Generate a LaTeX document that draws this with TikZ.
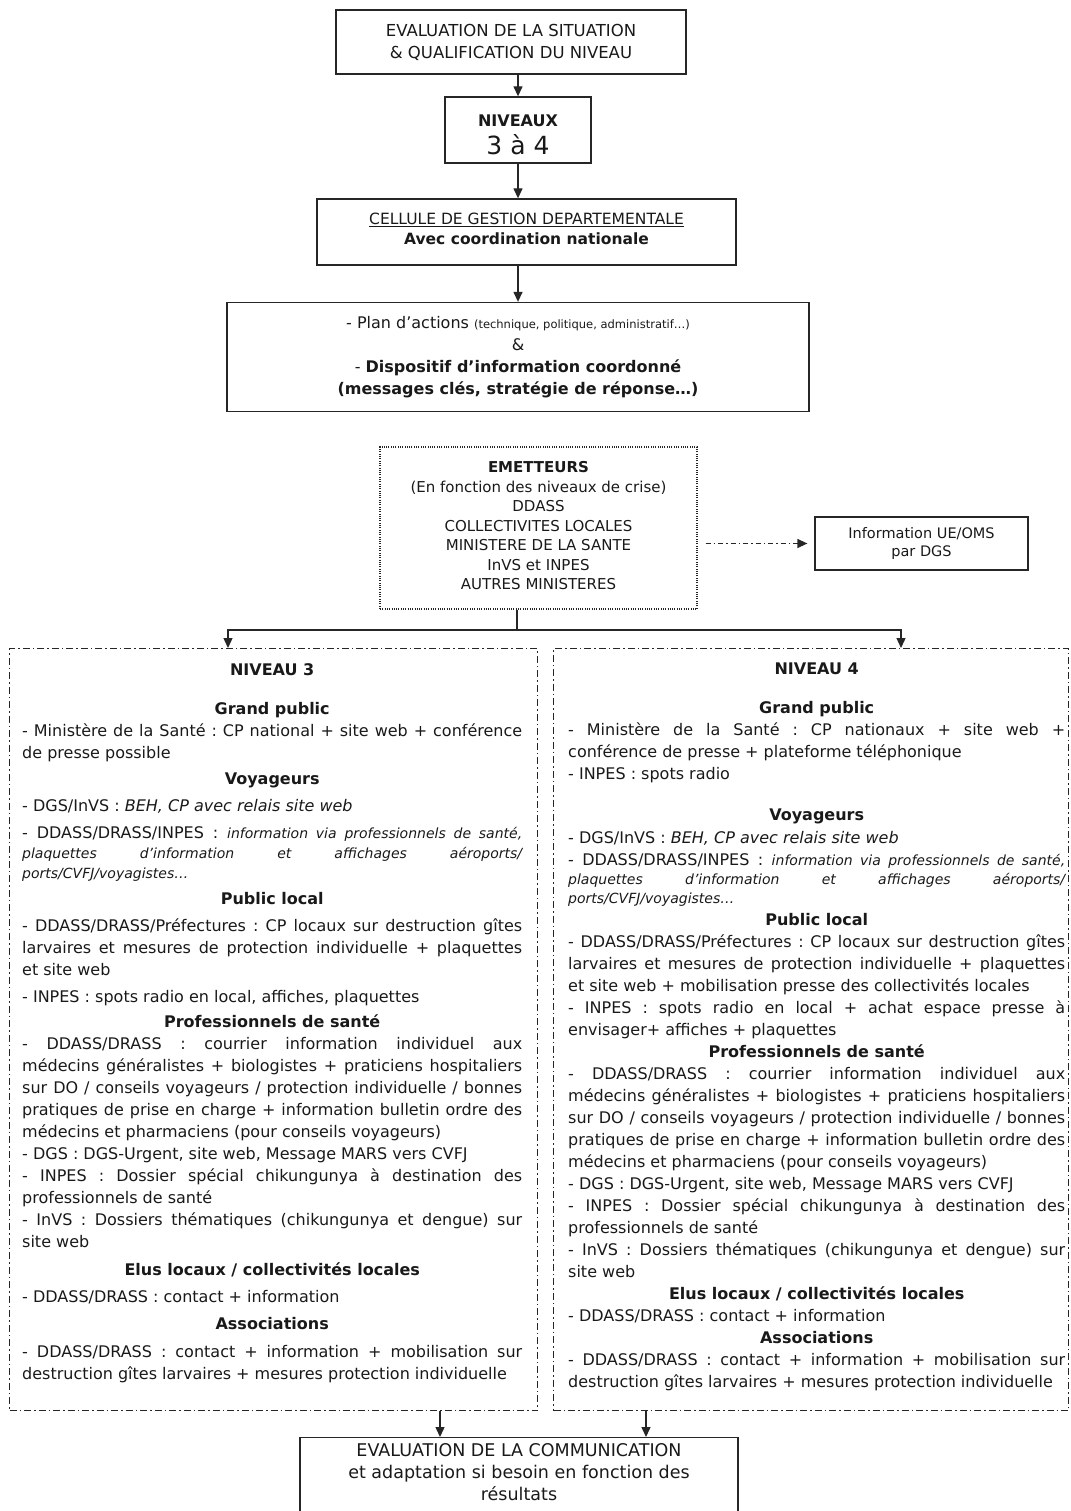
\documentclass[tikz,border=0pt]{standalone}
\usepackage{fontspec}
\setmainfont{DejaVu Sans}
\usetikzlibrary{arrows.meta}
\frenchspacing

\newcommand{\petit}[1]{{\fontsize{14}{20}\selectfont\itshape #1}}
\newcommand{\rubrique}[1]{{\centering\bfseries #1\par}}

\begin{document}
\begin{tikzpicture}[x=1pt,y=-1pt,
    box/.style={draw=black!85, line width=1.3pt, rectangle, inner sep=0pt, align=center,
      text=black!90, font=\fontsize{16}{22}\selectfont},
    dotbox/.style={box, dash pattern=on 1pt off 1.3pt},
    colbox/.style={draw=black!85, line width=1.1pt, rectangle, inner sep=0pt,
      dash pattern=on 7pt off 3pt on 1.5pt off 3pt},
    coltext/.style={anchor=north west, inner sep=0pt, align=justify, text=black!90,
      font=\fontsize{16}{22}\selectfont},
    arr/.style={draw=black!85, line width=1.3pt, -{Triangle[length=10pt,width=9pt]}},
    dasharr/.style={arr, dash pattern=on 5pt off 3pt on 1.5pt off 3pt}]
  \useasboundingbox (0,0) rectangle (1070,1511);

  % haut du schema
  \node[box, minimum width=350pt, minimum height=64pt, font=\fontsize{16.5}{22}\selectfont]
    (situation) at (511,42) {EVALUATION DE LA SITUATION\\\& QUALIFICATION DU NIVEAU};
  \node[box, minimum width=146pt, minimum height=66pt] (niveaux) at (518,130)
    {\rule{0pt}{22pt}\textbf{NIVEAUX}\\[6pt]{\fontsize{25}{28}\selectfont 3 à 4}};
  \node[box, minimum width=419pt, minimum height=66pt, font=\fontsize{15.5}{20}\selectfont]
    (cellule) at (526.5,232) {\underline{CELLULE DE GESTION DEPARTEMENTALE}\\\textbf{Avec coordination nationale}\rule[-6pt]{0pt}{6pt}};
  \node[box, minimum width=582pt, minimum height=109pt] (plan) at (518,357)
    {- Plan d’actions {\fontsize{11.5}{14}\selectfont (technique, politique, administratif…)}\\
     \&\\
     - \textbf{Dispositif d’information coordonné}\\
     \textbf{(messages clés, stratégie de réponse…)}};

  % emetteurs
  \node[dotbox, minimum width=317pt, minimum height=162pt, font=\fontsize{15}{19.5}\selectfont]
    (emetteurs) at (538.5,528) {\textbf{EMETTEURS}\\(En fonction des niveaux de crise)\\DDASS\\
     COLLECTIVITES LOCALES\\MINISTERE DE LA SANTE\\InVS et INPES\\AUTRES MINISTERES\rule[-5pt]{0pt}{5pt}};
  \node[box, minimum width=213pt, minimum height=53pt, font=\fontsize{14.5}{18.5}\selectfont]
    (infoue) at (921.5,543.5) {Information UE/OMS\\par DGS};

  % niveaux 3 et 4
  \node[colbox, minimum width=528pt, minimum height=762pt, anchor=north west] (niv3) at (9,648) {};
  \node[colbox, minimum width=515pt, minimum height=762pt, anchor=north west] (niv4) at (553,648) {};

  \node[coltext, text width=500pt] (txt3) at (22,663) {\setlength{\parskip}{0pt}%
    \rubrique{NIVEAU 3}
    \vspace{17pt}
    \rubrique{Grand public}
    - Ministère de la Santé : CP national + site web + conférence\linebreak de presse possible\par
    \vspace{4pt}
    \rubrique{Voyageurs}
    \vspace{5pt}
    - DGS/InVS : \textit{BEH, CP avec relais site web}\par
    \vspace{7pt}
    {\baselineskip=20pt - DDASS/DRASS/INPES : \petit{information via professionnels de santé,\linebreak
     plaquettes d’information et affichages aéroports/\linebreak ports/CVFJ/voyagistes…}\par}
    \vspace{4pt}
    \rubrique{Public local}
    \vspace{5pt}
    - DDASS/DRASS/Préfectures : CP locaux sur destruction gîtes\linebreak larvaires et mesures de
    protection individuelle + plaquettes\linebreak et site web\par
    \vspace{5pt}
    - INPES : spots radio en local, affiches, plaquettes\par
    \vspace{3pt}
    \rubrique{Professionnels de santé}
    - DDASS/DRASS : courrier information individuel aux\linebreak médecins généralistes + biologistes
    + praticiens hospitaliers\linebreak sur DO / conseils voyageurs / protection individuelle /
    bonnes\linebreak pratiques de prise en charge + information bulletin ordre des\linebreak
    médecins et pharmaciens (pour conseils voyageurs)\par
    - DGS : DGS-Urgent, site web, Message MARS vers CVFJ\par
    - INPES : Dossier spécial chikungunya à destination des\linebreak professionnels de santé\par
    - InVS : Dossiers thématiques (chikungunya et dengue) sur\linebreak site web\par
    \vspace{6pt}
    \rubrique{Elus locaux / collectivités locales}
    \vspace{5pt}
    - DDASS/DRASS : contact + information\par
    \vspace{5pt}
    \rubrique{Associations}
    \vspace{6pt}
    - DDASS/DRASS : contact + information + mobilisation sur\linebreak destruction gîtes larvaires
    + mesures protection individuelle\par};

  \node[coltext, text width=497pt] (txt4) at (568,663) {\setlength{\parskip}{0pt}%
    \rubrique{NIVEAU 4}
    \vspace{17pt}
    \rubrique{Grand public}
    - Ministère de la Santé : CP nationaux + site web +\linebreak conférence de presse + plateforme
    téléphonique\par
    - INPES : spots radio\par
    \vspace{19pt}
    \rubrique{Voyageurs}
    \vspace{1pt}
    - DGS/InVS : \textit{BEH, CP avec relais site web}\par
    \vspace{3pt}
    {\baselineskip=19pt - DDASS/DRASS/INPES : \petit{information via professionnels de santé,\linebreak
     plaquettes d’information et affichages aéroports/\linebreak ports/CVFJ/voyagistes…}\par}
    \rubrique{Public local}
    - DDASS/DRASS/Préfectures : CP locaux sur destruction gîtes\linebreak larvaires et mesures de
    protection individuelle + plaquettes\linebreak et site web + mobilisation presse des
    collectivités locales\par
    - INPES : spots radio en local + achat espace presse à\linebreak envisager+ affiches +
    plaquettes\par
    \rubrique{Professionnels de santé}
    - DDASS/DRASS : courrier information individuel aux\linebreak médecins généralistes + biologistes
    + praticiens hospitaliers\linebreak sur DO / conseils voyageurs / protection individuelle /
    bonnes\linebreak pratiques de prise en charge + information bulletin ordre des\linebreak
    médecins et pharmaciens (pour conseils voyageurs)\par
    - DGS : DGS-Urgent, site web, Message MARS vers CVFJ\par
    - INPES : Dossier spécial chikungunya à destination des\linebreak professionnels de santé\par
    - InVS : Dossiers thématiques (chikungunya et dengue) sur\linebreak site web\par
    \rubrique{Elus locaux / collectivités locales}
    - DDASS/DRASS : contact + information\par
    \rubrique{Associations}
    - DDASS/DRASS : contact + information + mobilisation sur\linebreak destruction gîtes larvaires
    + mesures protection individuelle\par};

  % evaluation finale
  \node[box, minimum width=438pt, minimum height=78pt, anchor=north, font=\fontsize{17.5}{22}\selectfont]
    (evalcom) at (519,1437) {EVALUATION DE LA COMMUNICATION\\et adaptation si besoin en fonction des\\résultats\rule[-10pt]{0pt}{10pt}};

  % fleches
  \draw[arr] (situation.south -| niveaux) -- (niveaux);
  \draw[arr] (niveaux.south) -- (niveaux.south |- cellule.north);
  \draw[arr] (cellule.south -| plan) -- (plan);
  \draw[dasharr, shorten <=8pt, shorten >=7pt] (infoue.west -| emetteurs.east) -- (infoue.west);

  \coordinate (split) at (517,630);
  \coordinate (top3) at ([xshift=219pt]niv3.north west);
  \coordinate (top4) at ([xshift=348pt]niv4.north west);
  \draw[draw=black!85, line width=1.3pt] (emetteurs.south -| split) -- (split);
  \draw[arr] (split) -| (top3);
  \draw[arr] (split) -| (top4);

  \coordinate (in3) at ([xshift=431pt]niv3.south west);
  \coordinate (in4) at ([xshift=93pt]niv4.south west);
  \draw[arr] (in3) -- (in3 |- evalcom.north);
  \draw[arr] (in4) -- (in4 |- evalcom.north);
\end{tikzpicture}
\end{document}
